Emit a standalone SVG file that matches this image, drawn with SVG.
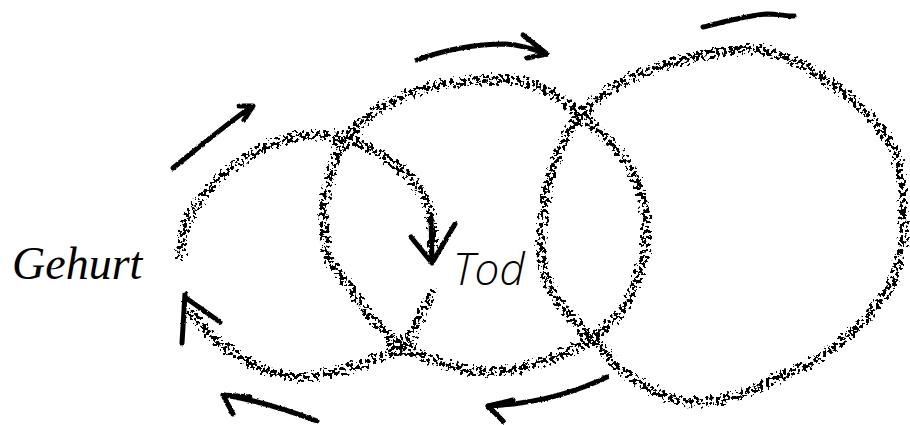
<svg xmlns="http://www.w3.org/2000/svg" width="910" height="425" viewBox="0 0 910 425">
<defs>
<filter id="chalk" filterUnits="userSpaceOnUse" x="0" y="0" width="910" height="425" color-interpolation-filters="sRGB">
<feGaussianBlur in="SourceAlpha" stdDeviation="4" result="b"/>
<feTurbulence type="fractalNoise" baseFrequency="0.3" numOctaves="2" seed="4" result="n"/>
<feComposite in="b" in2="n" operator="arithmetic" k1="4" k2="0" k3="0" k4="-1.85" result="c"/>
<feComponentTransfer in="c" result="t"><feFuncA type="linear" slope="14" intercept="0"/></feComponentTransfer>
<feFlood flood-color="#000"/>
<feComposite in2="t" operator="in"/>
</filter>
<filter id="rough" filterUnits="userSpaceOnUse" x="0" y="0" width="910" height="425">
<feTurbulence type="fractalNoise" baseFrequency="0.35" numOctaves="2" seed="9" result="n"/>
<feDisplacementMap in="SourceGraphic" in2="n" scale="2.5" xChannelSelector="R" yChannelSelector="G"/>
</filter>
</defs>
<style>
.c{fill:none;stroke:#000;stroke-width:17;stroke-linecap:round;stroke-linejoin:round}
.a{fill:none;stroke:#000;stroke-width:5;stroke-linecap:round;stroke-linejoin:round}
</style>
<rect width="910" height="425" fill="#fff"/>
<g filter="url(#chalk)">
<g id="circle-left">
<path class="c" d="M181,258 C180,238 185,222 193,210 C205,190 218,178 233,167 C250,155 265,145 283,140 C298,135 312,134 327,135 C342,137 354,141 367,147 C385,157 398,166 410,177 C420,188 427,198 430,210 C433,225 433,238 432,250"/>
<path class="c" d="M432,292 C428,303 423,313 417,323 C413,331 409,340 403,347 C392,354 380,358 367,362 C345,370 322,377 300,377 C282,376 265,371 250,363 C233,353 217,342 205,330 C199,323 194,317 190,310"/>
</g>
<g id="circle-middle">
<path class="c" d="M480,80 C493,79 505,79 517,80 C530,83 541,87 550,92 C561,99 571,107 580,115 C595,128 609,140 620,153 C629,165 636,177 640,190 C645,206 647,223 646,240 C645,254 642,267 637,280 C632,292 627,303 620,313 C612,323 603,330 593,337 C588,341 583,344 577,347 C563,354 548,360 533,365 C522,368 511,371 500,371 C489,371 478,371 467,370 C455,367 444,364 433,360 C422,356 412,352 403,347 C392,339 382,330 373,320 C364,310 356,298 350,287 C341,277 333,268 328,257 C325,242 323,226 324,210 C325,196 328,183 332,170 C336,157 342,144 350,133 C358,124 367,116 377,110 C391,101 405,95 420,90 C440,84 460,81 480,80 Z"/>
</g>
<g id="circle-right">
<path class="c" d="M541,250 C541,268 548,285 557,300 C566,314 579,326 593,337 C601,346 609,357 617,367 C627,375 637,381 647,387 C655,392 663,396 672,399 C688,402 705,402 722,400 C740,396 757,389 772,380 C783,375 793,371 803,368 C816,360 830,350 843,340 C853,332 862,323 870,313 C879,303 887,292 893,280 C898,267 901,254 903,240 C904,229 904,218 903,207 C902,190 902,173 897,157 C889,138 876,121 860,107 C845,92 828,80 810,70 C793,60 776,52 758,49 C744,47 733,50 722,52 C701,55 680,60 660,67 C651,70 642,73 633,77 C621,82 610,89 600,97 C592,103 586,109 580,115 C572,126 565,138 560,150 C553,166 548,183 545,200 C542,217 541,233 541,250 Z"/>
</g>
</g>
<g id="connectors" filter="url(#rough)">
<path class="a" d="M173,168 C198,148 224,126 251,107"/>
<path class="a" d="M239,106 L253,106 L244,120"/>
<path class="a" d="M417,60 C447,49 478,44 505,44 C522,45 536,50 547,54"/>
<path class="a" d="M523,35 L547,54 L527,58"/>
<path class="a" d="M703,27 C724,22 745,16 767,14 C778,14 786,16 794,16"/>
<path class="a" d="M317,421 C290,411 258,400 223,395"/>
<path class="a" d="M250,397 L223,395 L233,414"/>
<path class="a" d="M607,377 C572,394 532,404 488,406"/>
<path class="a" d="M513,400 L488,406 L503,421"/>
<path class="a" d="M182,343 L185,294 M186,298 L220,322"/>
<path class="a" stroke-width="7" d="M431,218 L432,262 M411,237 L432,263 L455,224"/>
</g>
<text x="12" y="279" font-family="Times New Roman, Liberation Serif, serif" font-style="italic" font-size="46" fill="#000">Gehurt</text>
<text x="453" y="285" font-family="'Open Sans','DejaVu Sans',sans-serif" font-style="italic" font-weight="300" font-size="44" fill="#000">Tod</text>
</svg>
